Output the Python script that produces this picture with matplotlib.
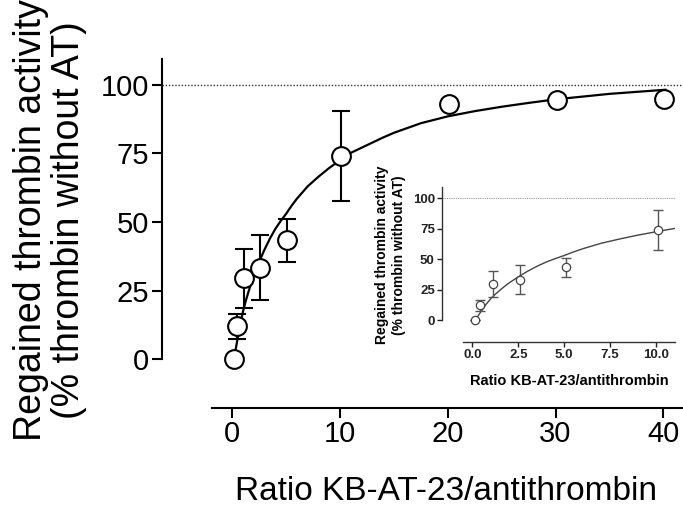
import matplotlib
matplotlib.use("Agg")
import matplotlib.pyplot as plt

plt.rcParams['font.family'] = ['Liberation Sans', 'DejaVu Sans']

# measured points (ratio KB-AT-23/antithrombin vs regained activity %)
ratio = [0.15, 0.4, 1.1, 2.6, 5.1, 10.1, 20.1, 30.1, 40.1]
activity = [0.0, 12.0, 29.7, 33.2, 43.3, 74.0, 93.1, 94.6, 94.9]
err_low = [0.0, 4.5, 10.9, 11.8, 8.0, 16.5, 0.0, 0.0, 0.0]
err_high = [0.0, 4.4, 10.3, 12.2, 7.9, 16.6, 0.0, 0.0, 0.0]

# fitted curve
fit_x = [0.15, 0.5, 0.75, 1.0, 1.25, 1.5, 1.75, 2.0, 2.5, 3.0, 3.5, 4.0, 4.5,
         5.0, 5.5, 6.0, 7.0, 8.0, 9.0, 10.0, 11.0, 12.5, 14.0, 15.0, 17.5,
         20.0, 22.5, 25.0, 27.5, 30.0, 35.0, 40.2]
fit_y = [0.0, 7.6, 13.0, 17.5, 21.2, 24.5, 27.6, 30.5, 35.5, 40.0, 44.0, 47.5,
         50.4, 53.0, 55.9, 58.5, 63.0, 66.5, 69.7, 72.5, 75.2, 78.0, 80.8,
         82.5, 86.0, 88.5, 90.4, 92.0, 93.4, 94.7, 96.7, 98.2]

main_xticks = [0, 10, 20, 30, 40]
yticks = [0, 25, 50, 75, 100]
inset_xticks = [0, 2.5, 5, 7.5, 10]
inset_xlabels = ['0.0', '2.5', '5.0', '7.5', '10.0']

W, H = 683, 515


def box(left, top, right, bottom):
    # pixel box -> figure fraction
    return [left / W, 1 - bottom / H, (right - left) / W, (bottom - top) / H]


fig = plt.figure(figsize=(W / 100, H / 100), dpi=100)

# ---- main panel ----
ax = fig.add_axes(box(161.7, 59.3, 683, 407.7))
ax.set_facecolor('none')
ax.set_xlim(-6.55, 41.83)
ax.set_ylim(-17.7, 109.3)
for s in ['top', 'right']:
    ax.spines[s].set_visible(False)
ax.spines['left'].set_bounds(0, 109.3)
ax.spines['bottom'].set_bounds(-1.9, 41.83)
for s in ['left', 'bottom']:
    ax.spines[s].set_linewidth(1.5)

ax.axhline(100, color='#333333', lw=1.0, ls=(0, (1, 1.3)), zorder=1)
ax.plot(fit_x, fit_y, color='black', lw=1.6, zorder=2)
ax.errorbar(ratio, activity, yerr=[err_low, err_high], fmt='none',
            ecolor='black', elinewidth=1.5, capsize=6.5, capthick=1.5, zorder=3)
ax.plot(ratio, activity, 'o', ms=13.5, mfc='white', mec='black', mew=1.5, zorder=4)

ax.set_xticks(main_xticks)
ax.set_yticks(yticks)
ax.tick_params(labelsize=21, length=7, width=1.5, pad=2)

ax.set_xlabel('Ratio KB-AT-23/antithrombin', fontsize=24)
ax.xaxis.set_label_coords(0.546, -0.195)
fig.text(31 / W, 1 - 220 / H, 'Regained thrombin activity', rotation=90,
         fontsize=27, ha='center', va='center')
fig.text(69 / W, 1 - 220 / H, '(% thrombin without AT)', rotation=90,
         fontsize=27, ha='center', va='center')

# ---- inset ----
ins = fig.add_axes(box(441.7, 186.7, 675, 341.7))
ins.set_facecolor('none')
ins.set_xlim(-1.67, 11.03)
ins.set_ylim(-17.8, 109.5)
for s in ['top', 'right']:
    ins.spines[s].set_visible(False)
ins.spines['left'].set_bounds(0, 109.5)
ins.spines['bottom'].set_bounds(-0.49, 11.03)
for s in ['left', 'bottom']:
    ins.spines[s].set_linewidth(1.0)
    ins.spines[s].set_color('#333333')

ins.axhline(100, color='#999999', lw=0.8, ls=(0, (1, 1)), zorder=1)
ins.plot(fit_x, fit_y, color='#444444', lw=1.0, zorder=2)
ins.errorbar(ratio, activity, yerr=[err_low, err_high], fmt='none',
             ecolor='#555555', elinewidth=1.0, capsize=3.5, capthick=1.0, zorder=3)
ins.plot(ratio, activity, 'o', ms=6, mfc='white', mec='#444444', mew=0.9, zorder=4)

ins.set_xticks(inset_xticks)
ins.set_xticklabels(inset_xlabels)
ins.set_yticks(yticks)
ins.tick_params(labelsize=9.5, length=3.5, width=1.0, pad=1.5, colors='#222222')
for lab in ins.get_xticklabels() + ins.get_yticklabels():
    lab.set_fontweight('bold')

ins.set_xlabel('Ratio KB-AT-23/antithrombin', fontsize=10.5, fontweight='bold')
ins.xaxis.set_label_coords(0.546, -0.21)
fig.text(382 / W, 1 - 255 / H, 'Regained thrombin activity', rotation=90,
         fontsize=10, fontweight='bold', ha='center', va='center')
fig.text(399 / W, 1 - 255 / H, '(% thrombin without AT)', rotation=90,
         fontsize=10, fontweight='bold', ha='center', va='center')

fig.savefig('out.png', dpi=100)
